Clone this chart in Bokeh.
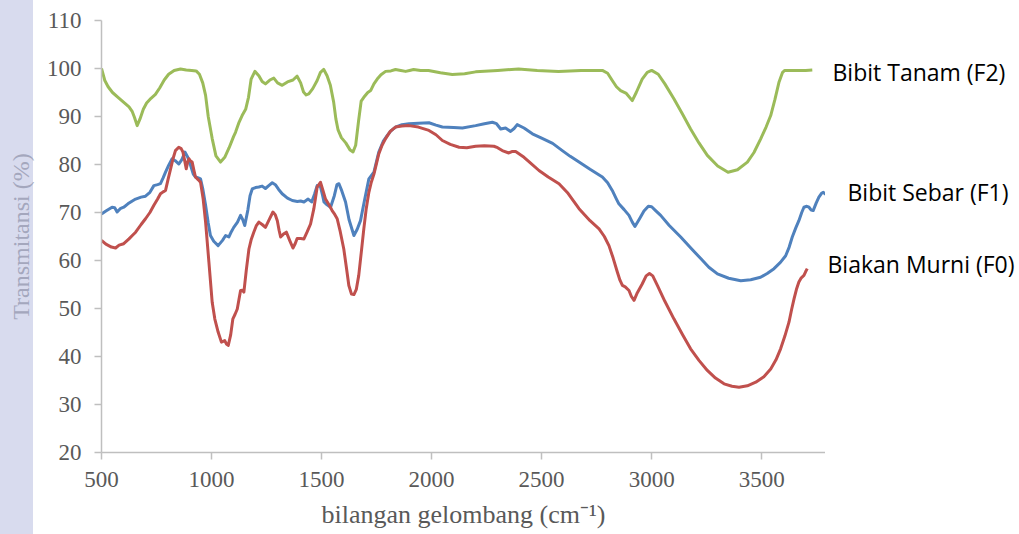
from bokeh.plotting import figure
from bokeh.models import Range1d, FixedTicker
from bokeh.layouts import row
from bokeh.core.properties import value
from bokeh.embed import file_html
from bokeh.resources import INLINE

# ---- data ----
wn_f2 = [500, 515, 530, 550, 575, 600, 625, 640, 650, 662, 675, 690, 705, 725, 745, 765, 785, 805, 830, 859,
         885, 910, 930, 945, 960, 973, 985, 1003, 1020, 1041, 1060, 1080, 1100, 1109, 1125, 1139, 1155, 1168,
         1180, 1197, 1215, 1230, 1245, 1265, 1283, 1300, 1321, 1345, 1370, 1389, 1405, 1418, 1430, 1442, 1460,
         1480, 1495, 1510, 1525, 1540, 1555, 1565, 1575, 1590, 1610, 1630, 1643, 1655, 1668, 1680, 1692, 1710,
         1723, 1738, 1753, 1770, 1791, 1815, 1836, 1860, 1882, 1900, 1918, 1950, 1986, 2040, 2094, 2150, 2200,
         2300, 2395, 2480, 2577, 2680, 2776, 2800, 2821, 2840, 2859, 2885, 2912, 2930, 2957, 2980, 3000, 3030,
         3060, 3101, 3140, 3177, 3215, 3253, 3300, 3347, 3390, 3435, 3465, 3495, 3520, 3541, 3560, 3579, 3595,
         3605, 3650, 3700, 3730]
t_f2 = [100.0, 97.5, 96.2, 95.0, 94.0, 93.0, 92.0, 91.0, 89.8, 88.1, 89.5, 91.5, 92.8, 93.8, 94.6, 96.0, 97.6,
        98.8, 99.6, 99.9, 99.7, 99.6, 99.5, 98.8, 97.0, 94.4, 90.0, 85.4, 81.8, 80.5, 81.5, 83.5, 85.8, 86.7,
        88.8, 90.2, 91.5, 94.0, 97.8, 99.4, 98.5, 97.3, 96.8, 97.6, 98.0, 97.0, 96.5, 97.2, 97.6, 98.4, 97.0,
        95.1, 94.5, 94.7, 95.8, 97.5, 99.2, 99.8, 98.5, 96.5, 93.0, 89.5, 87.2, 85.6, 84.5, 83.0, 82.6, 84.0,
        89.0, 93.2, 94.0, 95.0, 95.4, 96.8, 97.8, 98.7, 99.4, 99.5, 99.8, 99.6, 99.4, 99.6, 99.8, 99.6, 99.6,
        99.1, 98.75, 98.9, 99.3, 99.6, 99.9, 99.6, 99.4, 99.6, 99.6, 99.0, 97.5, 96.2, 95.4, 94.8, 93.3, 95.0,
        97.8, 99.2, 99.6, 98.8, 96.8, 93.7, 90.5, 87.4, 84.5, 81.9, 79.7, 78.4, 78.9, 80.5, 82.5, 85.3, 87.8,
        90.2, 93.5, 97.2, 99.2, 99.6, 99.6, 99.6, 99.7]

wn_f1 = [500, 520, 548, 560, 571, 585, 601, 620, 640, 655, 680, 700, 720, 738, 755, 768, 780, 791, 805, 821,
         835, 851, 865, 879, 892, 905, 917, 927, 940, 950, 960, 973, 985, 995, 1010, 1030, 1050, 1064, 1079,
         1090, 1101, 1118, 1132, 1142, 1151, 1165, 1175, 1185, 1200, 1215, 1230, 1245, 1260, 1276, 1290, 1305,
         1321, 1345, 1367, 1390, 1405, 1420, 1439, 1455, 1468, 1480, 1495, 1505, 1511, 1525, 1541, 1558, 1570,
         1579, 1592, 1609, 1625, 1647, 1662, 1677, 1695, 1715, 1738, 1760, 1780, 1798, 1815, 1836, 1865, 1897,
         1940, 1988, 2020, 2049, 2100, 2140, 2200, 2240, 2276, 2295, 2314, 2336, 2359, 2375, 2389, 2420, 2458,
         2500, 2550, 2594, 2630, 2670, 2720, 2776, 2800, 2821, 2840, 2851, 2875, 2897, 2912, 2924, 2945, 2965,
         2985, 3000, 3018, 3041, 3080, 3132, 3180, 3223, 3260, 3299, 3350, 3405, 3450, 3495, 3525, 3556, 3585,
         3609, 3625, 3639, 3655, 3669, 3682, 3692, 3705, 3715, 3725, 3734, 3748, 3760, 3772, 3780, 3791]
t_f1 = [69.7, 70.3, 71.1, 71.0, 70.1, 70.8, 71.1, 71.8, 72.4, 72.8, 73.2, 73.4, 74.2, 75.6, 75.8, 76.0, 77.2,
        78.4, 79.8, 81.2, 80.8, 80.1, 81.0, 82.6, 81.5, 79.8, 78.0, 77.4, 77.2, 77.0, 75.0, 71.5, 67.8, 65.2,
        64.0, 63.1, 64.2, 65.2, 64.9, 66.0, 66.9, 68.0, 69.4, 68.5, 67.3, 70.5, 73.5, 74.9, 75.2, 75.3, 75.5,
        75.0, 75.6, 76.2, 75.8, 74.8, 73.9, 73.0, 72.5, 72.3, 72.4, 72.2, 72.8, 72.2, 73.8, 75.6, 75.4, 73.5,
        72.2, 71.6, 71.1, 73.5, 75.8, 76.0, 74.5, 72.2, 68.5, 65.2, 66.5, 68.3, 72.5, 77.0, 78.4, 82.6, 84.8,
        86.0, 87.0, 87.8, 88.3, 88.5, 88.6, 88.7, 88.2, 87.8, 87.7, 87.6, 88.1, 88.5, 88.8, 88.5, 87.4, 87.6,
        86.9, 87.5, 88.3, 87.6, 86.4, 85.5, 84.4, 82.9, 81.7, 80.5, 79.0, 77.4, 76.2, 74.6, 72.8, 71.8, 70.6,
        69.4, 68.0, 67.1, 68.7, 70.3, 71.3, 71.2, 70.4, 69.4, 67.3, 64.9, 62.5, 60.4, 58.6, 57.2, 56.3, 55.8,
        56.0, 56.5, 57.3, 58.3, 59.6, 61.0, 62.8, 64.9, 66.8, 68.3, 70.0, 71.1, 71.3, 71.1, 70.5, 70.4, 72.0,
        73.2, 74.0, 74.2, 73.8]

wn_f0 = [500, 520, 545, 564, 580, 601, 625, 640, 655, 680, 700, 720, 738, 755, 768, 780, 791, 803, 814, 825,
         836, 851, 862, 870, 878, 885, 891, 897, 905, 912, 920, 927, 940, 950, 962, 973, 988, 1003, 1015, 1030,
         1045, 1060, 1068, 1076, 1087, 1097, 1107, 1117, 1125, 1132, 1140, 1147, 1158, 1170, 1180, 1192, 1203,
         1215, 1230, 1245, 1262, 1279, 1290, 1299, 1307, 1314, 1327, 1340, 1355, 1370, 1380, 1389, 1405, 1420,
         1435, 1450, 1465, 1480, 1495, 1507, 1518, 1535, 1548, 1560, 1571, 1585, 1601, 1613, 1624, 1636, 1647,
         1658, 1669, 1680, 1692, 1703, 1715, 1726, 1738, 1750, 1760, 1775, 1791, 1812, 1836, 1865, 1897, 1940,
         1988, 2020, 2049, 2085, 2125, 2160, 2200, 2240, 2283, 2300, 2321, 2351, 2365, 2382, 2420, 2450, 2488,
         2530, 2579, 2620, 2670, 2720, 2761, 2785, 2806, 2825, 2844, 2856, 2867, 2880, 2897, 2908, 2920, 2935,
         2957, 2975, 2990, 3005, 3026, 3060, 3101, 3140, 3177, 3215, 3253, 3290, 3329, 3365, 3397, 3435, 3473,
         3510, 3541, 3565, 3586, 3605, 3624, 3636, 3647, 3658, 3669, 3680, 3692, 3700, 3707]
t_f0 = [64.2, 63.4, 62.8, 62.6, 63.2, 63.5, 64.5, 65.2, 65.9, 67.5, 68.7, 70.0, 71.5, 72.8, 73.9, 74.3, 74.6,
        77.0, 79.1, 81.2, 82.9, 83.6, 83.3, 82.6, 80.8, 79.1, 80.4, 81.2, 80.7, 80.5, 78.8, 77.4, 76.8, 76.3,
        72.8, 68.0, 59.7, 51.3, 47.8, 45.1, 43.0, 43.3, 42.6, 42.3, 44.5, 47.85, 48.8, 49.9, 52.0, 53.75, 53.8,
        53.4, 58.0, 62.4, 64.3, 65.9, 67.2, 68.0, 67.5, 66.9, 68.5, 70.1, 69.5, 68.3, 66.3, 64.9, 65.5, 65.9,
        64.2, 62.6, 63.5, 64.6, 64.6, 64.5, 66.0, 67.6, 70.8, 75.3, 76.3, 74.5, 72.8, 71.5, 70.4, 69.6, 68.7,
        66.0, 62.4, 58.5, 54.8, 53.0, 52.9, 54.0, 56.9, 61.5, 66.6, 70.8, 74.2, 76.3, 78.0, 80.3, 82.2, 84.0,
        85.4, 86.9, 87.8, 88.0, 88.1, 87.8, 87.1, 86.2, 85.0, 84.2, 83.6, 83.5, 83.8, 83.9, 83.8, 83.5, 82.9,
        82.4, 82.7, 82.7, 81.5, 80.3, 78.75, 77.4, 76.0, 74.0, 70.8, 68.3, 66.6, 65.0, 63.1, 60.5, 57.6, 55.9,
        54.8, 54.5, 53.75, 52.5, 51.7, 53.3, 55.1, 56.8, 57.3, 56.8, 54.8, 51.5, 47.85, 44.6, 41.6, 39.2, 37.1,
        35.5, 34.3, 33.8, 33.6, 33.9, 34.65, 35.8, 37.4, 39.3, 41.6, 44.2, 47.15, 49.8, 52.0, 54.0, 55.5, 56.4,
        56.9, 57.7, 58.3]

series_names = ["Bibit Tanam (F2)", "Bibit Sebar (F1)", "Biakan Murni (F0)"]
x_ticks = [500, 1000, 1500, 2000, 2500, 3000, 3500]
y_ticks = [20, 30, 40, 50, 60, 70, 80, 90, 100, 110]

# ---- main chart ----
yr = Range1d(20, 110)
p = figure(width=825, height=534, output_backend="svg", toolbar_location=None,
           x_range=Range1d(500, 3790), y_range=yr,
           min_border_left=101, min_border_right=0, min_border_top=20, min_border_bottom=82)
p.border_fill_color = None
p.background_fill_color = None
p.outline_line_color = None
p.xgrid.visible = False
p.ygrid.visible = False

for ax in (p.xaxis[0], p.yaxis[0]):
    ax.axis_line_color = "#bfbfbf"
    ax.axis_line_width = 1.5
    ax.major_tick_line_color = "#bfbfbf"
    ax.major_tick_line_width = 1.5
    ax.major_tick_out = 7
    ax.major_tick_in = 0
    ax.minor_tick_line_color = None
    ax.major_label_text_font = "Liberation Serif"
    ax.major_label_text_font_size = "23px"
    ax.major_label_text_color = "#595959"
    ax.axis_label_text_font = "Liberation Serif"
    ax.axis_label_text_font_style = "normal"

p.xaxis.ticker = FixedTicker(ticks=x_ticks)
p.yaxis.ticker = FixedTicker(ticks=y_ticks)
p.xaxis.major_label_standoff = 12
p.yaxis.major_label_standoff = 13
p.xaxis.axis_label = "bilangan gelombang (cm\u207b\u00b9)"
p.xaxis.axis_label_text_color = "#595959"
p.xaxis.axis_label_text_font_size = "26px"
p.xaxis.axis_label_standoff = 10
p.yaxis.axis_label = "Transmitansi (%)"
p.yaxis.axis_label_text_color = "#a4a7bd"
p.yaxis.axis_label_text_font_size = "24px"
p.yaxis.axis_label_standoff = 10

p.line(wn_f2, t_f2, line_color="#9bbb59", line_width=3, line_join="round")
p.line(wn_f1, t_f1, line_color="#4f81bd", line_width=3, line_join="round")
p.line(wn_f0, t_f0, line_color="#c0504d", line_width=3, line_join="round")

# ---- side panel with the series names (shares the y scale) ----
side = figure(width=194, height=534, output_backend="svg", toolbar_location=None,
              x_range=Range1d(0, 194), y_range=yr,
              x_axis_location=None, y_axis_location=None,
              min_border_left=0, min_border_right=0, min_border_top=20, min_border_bottom=82)
side.border_fill_color = None
side.background_fill_color = None
side.outline_line_color = None
side.xgrid.visible = False
side.ygrid.visible = False
side.text(x=[7, 22, 2], y=[99.2, 74.2, 59.3], text=series_names,
          text_font=value("Open Sans"), text_font_size="23px", text_color="black",
          text_baseline="middle", text_align="left")

layout = row(p, side, spacing=0)
layout.styles = {"background": "linear-gradient(to right, #d8dbee 0px, #d8dbee 33px, #ffffff 33px)"}

open("out.html", "w").write(file_html(layout, INLINE))
